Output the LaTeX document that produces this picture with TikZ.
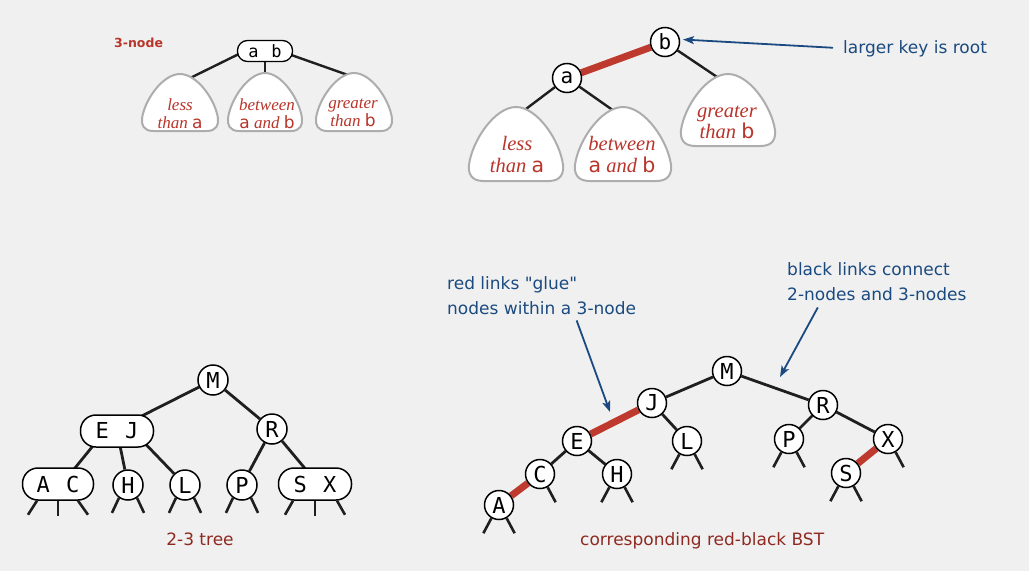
\documentclass[tikz,border=0pt]{standalone}
\usepackage{fontspec}
\setmainfont{Liberation Serif}
\setsansfont{DejaVu Sans}
\setmonofont{DejaVu Sans Mono}
\usetikzlibrary{arrows.meta}
\pgfdeclarelayer{bg}
\pgfsetlayers{bg,main}
\definecolor{bgc}{HTML}{F0F0F0}
\definecolor{rlink}{HTML}{BE3A2E}
\definecolor{rtext}{HTML}{B8352B}
\definecolor{capred}{HTML}{8E2A22}
\definecolor{lblue}{HTML}{1A4A80}
\definecolor{tgray}{HTML}{ADADAD}
\tikzset{
  cnode/.style={circle, draw=black, line width=1.5pt, fill=white, inner sep=0pt,
    minimum size=#1, font=\ttfamily\fontsize{22}{22}\selectfont},
  cnode/.default=29pt,
  rnode/.style={rectangle, rounded corners=15.5pt, draw=black, line width=1.5pt, fill=white,
    inner sep=0pt, minimum height=32pt, minimum width=#1, font=\ttfamily\fontsize{22}{22}\selectfont},
  abnode/.style={rectangle, rounded corners=10pt, draw=black, line width=1.3pt, fill=white,
    inner sep=0pt, minimum height=21pt, minimum width=55pt, font=\ttfamily\fontsize{17}{17}\selectfont},
  blk/.style={draw=black!88, line width=2.8pt},
  blkthin/.style={draw=black!88, line width=2.4pt},
  redl/.style={draw=rlink, line width=7pt},
  stubline/.style={draw=black!88, line width=2.6pt},
  lbl/.style={font=\sffamily\fontsize{17}{20}\selectfont, text=lblue, inner sep=0pt},
  captxt/.style={font=\sffamily\fontsize{17}{20}\selectfont, text=capred, inner sep=0pt},
  tsmall/.style={font=\itshape\fontsize{17}{17}\selectfont, text=rtext, inner sep=0pt},
  tbig/.style={font=\itshape\fontsize{20.5}{20.5}\selectfont, text=rtext, inner sep=0pt},
  tshape/.style={fill=white, draw=tgray, line width=2pt},
  barrow/.style={draw=lblue, line width=1.8pt, -{Stealth[length=11pt,width=8pt,inset=2.5pt]}},
}
% gumdrop-shaped subtree: centre x, bottom y, half width, height
\newcommand{\tritree}[4]{%
  \path[tshape] (#1,#2) -- (#1+0.7*#3,#2)
    .. controls (#1+0.96*#3,#2) and (#1+1.02*#3,#2-0.11*#4) .. (#1+#3,#2-0.22*#4)
    .. controls (#1+0.93*#3,#2-0.55*#4) and (#1+0.45*#3,#2-#4) .. (#1,#2-#4)
    .. controls (#1-0.45*#3,#2-#4) and (#1-0.93*#3,#2-0.55*#4) .. (#1-#3,#2-0.22*#4)
    .. controls (#1-1.02*#3,#2-0.11*#4) and (#1-0.96*#3,#2) .. (#1-0.7*#3,#2) -- cycle;}
\newcommand{\twostubs}[1]{%
  \draw[stubline] (#1.240) -- ++(-8,15);
  \draw[stubline] (#1.300) -- ++(8,15);}
\newcommand{\sfl}[1]{{\upshape\sffamily #1}}
\begin{document}
\begin{tikzpicture}[x=1pt,y=-1pt]
\useasboundingbox (0,0) rectangle (1029,571);
\begin{pgfonlayer}{bg}
  \fill[bgc] (0,0) rectangle (1029,571);
\end{pgfonlayer}

% ---------- top left: 3-node ----------
\node[font=\sffamily\bfseries\fontsize{12.5}{14}\selectfont, text=rtext, inner sep=0pt, anchor=base west] (threenode) at (114,47) {3-node};
\node[abnode] (ab) at (265,51) {a \hspace{2.5pt}b};
\coordinate (tl1) at (180,83);
\coordinate (tl2) at (265,90);
\coordinate (tl3) at (362,80);
\begin{pgfonlayer}{bg}
  \draw[blkthin] ([xshift=-20pt]ab.center) -- (tl1);
  \draw[blkthin] (ab) -- (tl2);
  \draw[blkthin] ([xshift=15pt]ab.center) -- (tl3);
\end{pgfonlayer}
\tritree{180}{131}{38}{57}
\tritree{265}{131}{37}{58}
\tritree{354}{131}{38}{58}
\node[tsmall, anchor=base] (tl1a) at (180,110) {less};
\node[tsmall, anchor=base] (tl1b) at (180,128) {than \sfl{a}};
\node[tsmall, anchor=base] (tl2a) at (267,110) {between};
\node[tsmall, anchor=base] (tl2b) at (267,128) {\sfl{a} and \sfl{b}};
\node[tsmall, anchor=base] (tl3a) at (353,108) {greater};
\node[tsmall, anchor=base] (tl3b) at (353,126) {than \sfl{b}};

% ---------- top right: as red-black ----------
\node[cnode=29pt, font=\ttfamily\fontsize{21}{21}\selectfont] (ta) at (567,78) {a};
\node[cnode=29pt, font=\ttfamily\fontsize{21}{21}\selectfont] (tb) at (665,42) {b};
\coordinate (tr1) at (514,118);
\coordinate (tr2) at (624,118);
\coordinate (tr3) at (729,85);
\begin{pgfonlayer}{bg}
  \draw[blkthin] (ta) -- (tr1);
  \draw[blkthin] (ta) -- (tr2);
  \draw[blkthin] (tb) -- (tr3);
  \draw[redl] (ta) -- (tb);
\end{pgfonlayer}
\tritree{516}{181}{47}{74}
\tritree{623}{181}{48}{74}
\tritree{728}{146}{47}{72}
\node[tbig, anchor=base] (tr1a) at (517,150) {less};
\node[tbig, anchor=base] (tr1b) at (517,172) {than \sfl{a}};
\node[tbig, anchor=base] (tr2a) at (622,150) {between};
\node[tbig, anchor=base] (tr2b) at (622,172) {\sfl{a} and \sfl{b}};
\node[tbig, anchor=base] (tr3a) at (727,117) {greater};
\node[tbig, anchor=base] (tr3b) at (727,138) {than \sfl{b}};
\node[lbl, anchor=base west] (larger) at (843,53) {larger key is root};
\draw[barrow, shorten <=10pt, shorten >=3pt] (larger.west) -- (tb.10);

% ---------- bottom left: 2-3 tree ----------
\node[cnode=30pt] (M2) at (213,380) {M};
\node[rnode=73pt] (EJ) at (117,431) {E \hspace{3pt}J};
\node[cnode=30pt] (R2) at (272,429) {R};
\node[rnode=71pt] (AC) at (58,484) {A \hspace{3pt}C};
\node[cnode=30pt] (H2) at (128,485) {H};
\node[cnode=30pt] (L2) at (185,485) {L};
\node[cnode=30pt] (P2) at (242,485) {P};
\node[rnode=73pt] (SX) at (315,484) {S \hspace{3pt}X};
\begin{pgfonlayer}{bg}
  \draw[blk] (M2) -- ([xshift=-5pt]EJ.center);
  \draw[blk] (M2) -- (R2);
  \draw[blk] ([xshift=-12pt]EJ.center) -- ([xshift=4pt]AC.center);
  \draw[blk] (EJ.center) -- (H2);
  \draw[blk] ([xshift=16pt]EJ.center) -- (L2);
  \draw[blk] (R2) -- (P2);
  \draw[blk] (R2) -- ([xshift=3pt]SX.center);
\end{pgfonlayer}
\draw[stubline] ([xshift=-21pt]AC.south) -- ++(-9,14);
\draw[stubline] (AC.south) -- ++(0,15);
\draw[stubline] ([xshift=20pt]AC.south) -- ++(10,14);
\draw[stubline] ([xshift=-22pt]SX.south) -- ++(-8,14);
\draw[stubline] (SX.south) -- ++(0,15);
\draw[stubline] ([xshift=22pt]SX.south) -- ++(8,14);
\draw[stubline] (H2.235) -- ++(-7,15);
\draw[stubline] (H2.305) -- ++(7,15);
\draw[stubline] (L2.235) -- ++(-7,15);
\draw[stubline] (L2.305) -- ++(7,15);
\draw[stubline] (P2.235) -- ++(-7,15);
\draw[stubline] (P2.305) -- ++(7,15);
\node[captxt, anchor=base] (cap23) at (200,545) {2-3 tree};

% ---------- bottom right: red-black BST ----------
\node[cnode] (M) at (727,371) {M};
\node[cnode] (J) at (652,403) {J};
\node[cnode] (R) at (823,405) {R};
\node[cnode] (E) at (577,441) {E};
\node[cnode] (L) at (687,441) {L};
\node[cnode] (P) at (789,439) {P};
\node[cnode] (X) at (888,439) {X};
\node[cnode] (C) at (540,474) {C};
\node[cnode] (H) at (617,474) {H};
\node[cnode] (S) at (846,473) {S};
\node[cnode] (A) at (499,505) {A};
\begin{pgfonlayer}{bg}
  \draw[blk] (M) -- (J);
  \draw[blk] (M) -- (R);
  \draw[redl] (J) -- (E);
  \draw[blk] (J) -- (L);
  \draw[blk] (E) -- (C);
  \draw[blk] (E) -- (H);
  \draw[redl] (C) -- (A);
  \draw[blk] (R) -- (P);
  \draw[blk] (R) -- (X);
  \draw[redl] (X) -- (S);
\end{pgfonlayer}
\twostubs{A}
\draw[stubline] (C.300) -- ++(8,15);
\twostubs{H}
\twostubs{L}
\twostubs{P}
\draw[stubline] (X.300) -- ++(8,15);
\twostubs{S}

\node[lbl, anchor=base west] (red1) at (447,289) {red links \textquotedbl glue\textquotedbl};
\node[lbl, anchor=base west] (red2) at (447,314) {nodes within a 3-node};
\node[lbl, anchor=base west] (blk1) at (787,275) {black links connect};
\node[lbl, anchor=base west] (blk2) at (787,300) {2-nodes and 3-nodes};
\coordinate (rtip) at (610,412);
\coordinate (btip) at (780,377);
\draw[barrow] ([shift={(35,6)}]red2.south) -- (rtip);
\draw[barrow] ([shift={(-59,7)}]blk2.south) -- (btip);
\node[captxt, anchor=base west] (caprb) at (580,545) {corresponding red-black BST};
\end{tikzpicture}
\end{document}
